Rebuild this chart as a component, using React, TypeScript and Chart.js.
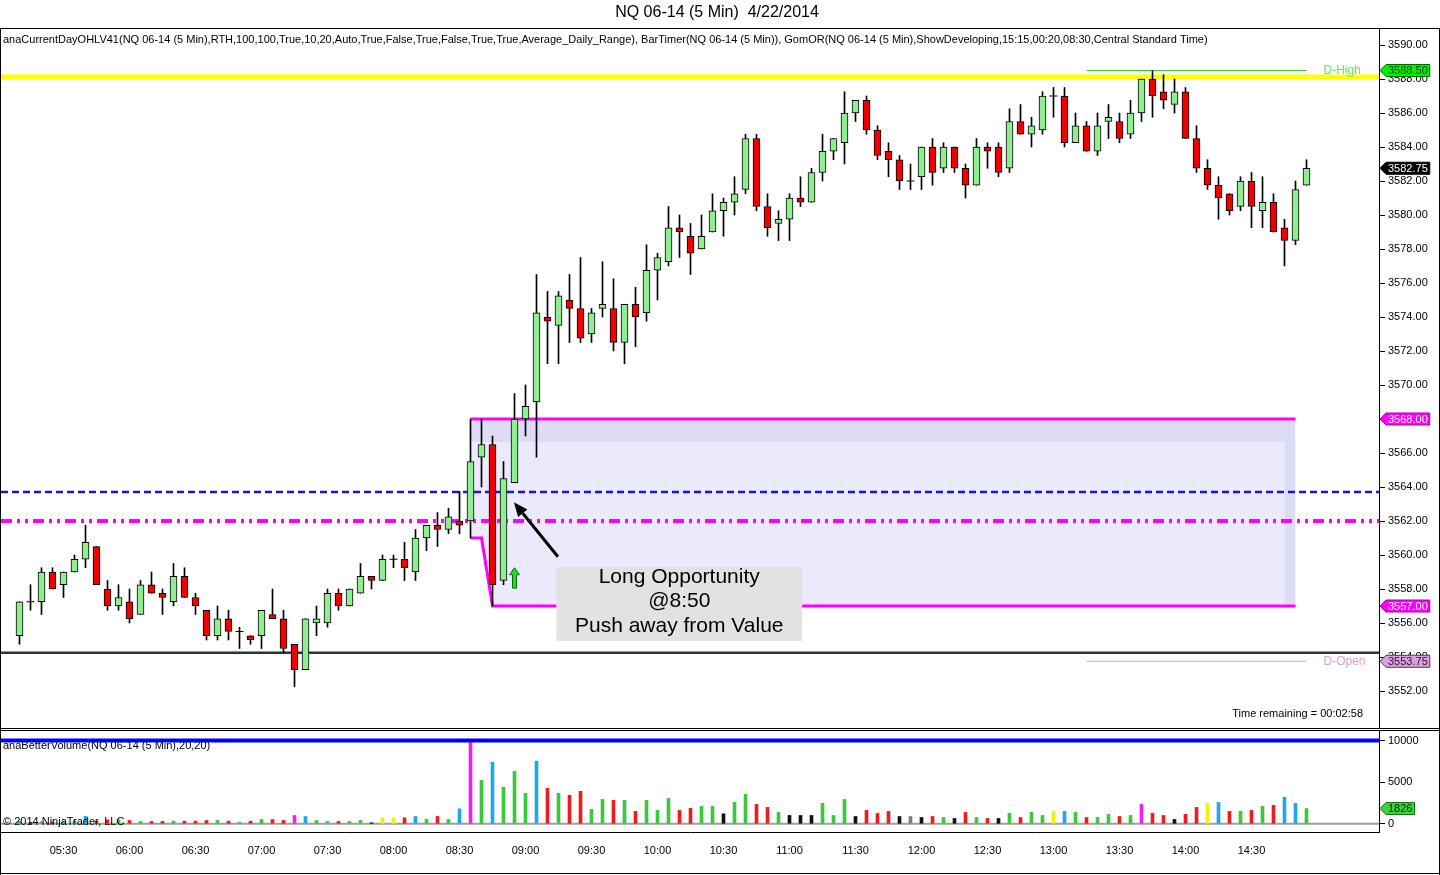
import React, { useEffect, useRef } from 'react';
import { Chart, registerables } from 'chart.js';

Chart.register(...registerables);

const FONT = '"Liberation Sans", Arial, Helvetica, sans-serif';

// ---------------- data ----------------
const sessionStart = '05:10';
const barMinutes = 5;

const opens = [
  3555.25, 3557.25, 3557.25, 3559, 3558.25, 3559, 3559.75, 3560.5, 3558, 3557,
  3557.25, 3556.5, 3558.25, 3557.75, 3557.25, 3558.75, 3557.5, 3556.75, 3555.25, 3556.25,
  3555.5, 3555.25, 3555.25, 3556.5, 3556.25, 3554.75, 3553.25, 3556, 3556, 3557.75,
  3557, 3557.75, 3558.75, 3558.5, 3559.75, 3559.75, 3559, 3561, 3561.75, 3561.5,
  3562, 3562, 3565.75, 3566.5, 3558.5, 3564.25, 3568, 3569, 3574, 3573.5,
  3575, 3574.5, 3573, 3574.5, 3574.5, 3572.5, 3574.75, 3574.25, 3576.75, 3577.25,
  3579.25, 3578.75, 3578, 3579, 3580.25, 3580.75, 3581.5, 3584.5, 3580.5, 3579.5,
  3579.75, 3581, 3580.75, 3582.5, 3583.75, 3584.25, 3586, 3586.75, 3585, 3583.75,
  3583.25, 3582, 3582.25, 3584, 3582.75, 3584, 3582.75, 3581.75, 3584, 3584,
  3582.75, 3585.5, 3584.75, 3585, 3587, 3587, 3584.25, 3585.25, 3583.75, 3585.5,
  3585.5, 3584.75, 3586, 3588, 3587.25, 3586.5, 3587.25, 3584.5, 3582.75, 3581.75,
  3581.25, 3580.5, 3582, 3580.25, 3580.75, 3579.25, 3578.5, 3581.75,
];
const highs = [
  3557.25, 3558.25, 3559.25, 3559.25, 3559, 3560, 3561.75, 3560.5, 3558.5, 3558.25,
  3558, 3558.5, 3559, 3558, 3559.5, 3559.25, 3557.75, 3556.75, 3557, 3556.75,
  3555.75, 3555.25, 3556.75, 3558, 3556.75, 3554.75, 3556.25, 3557, 3558, 3558,
  3558, 3559.5, 3558.75, 3560, 3560, 3560.75, 3561.5, 3561.75, 3562.5, 3562.75,
  3563.75, 3568, 3568, 3567, 3565.5, 3569.5, 3570, 3576.5, 3575.5, 3575.5,
  3576.5, 3577.5, 3574.5, 3577.25, 3576.25, 3574.75, 3575.75, 3578.25, 3577.75, 3580.5,
  3580, 3579.5, 3580, 3581.25, 3581, 3582.25, 3584.75, 3584.75, 3581.25, 3580.25,
  3581.25, 3582.25, 3582.75, 3584.75, 3584.5, 3587.25, 3586.75, 3587, 3585.25, 3584.25,
  3583.5, 3583, 3584, 3584.5, 3584.25, 3584, 3583, 3584.5, 3584.25, 3584.25,
  3586.25, 3586.5, 3585.75, 3587.25, 3587.5, 3587.5, 3586, 3585.5, 3586, 3586.5,
  3586, 3586.75, 3588, 3588.5, 3588.25, 3588, 3587.5, 3585.25, 3583.25, 3582.25,
  3581.25, 3582.25, 3582.5, 3582.25, 3581.25, 3579.75, 3582, 3583.25,
];
const lows = [
  3554.75, 3556.75, 3556.5, 3558, 3557.5, 3559, 3559.25, 3558.25, 3556.75, 3556.75,
  3556, 3556.5, 3557.75, 3556.5, 3557, 3557.5, 3556.5, 3555, 3555, 3555,
  3554.5, 3554.75, 3554.5, 3556.25, 3554.25, 3552.25, 3553.25, 3555.25, 3555.75, 3556.75,
  3557, 3557.75, 3558, 3558.5, 3559.25, 3558.5, 3558.5, 3560.25, 3560.5, 3561.25,
  3561.25, 3561, 3564, 3557, 3558.25, 3564.25, 3567, 3565.75, 3571.25, 3571.25,
  3572.5, 3572.5, 3572.5, 3574, 3572, 3571.25, 3572.25, 3573.75, 3575, 3577,
  3577.5, 3576.5, 3578, 3579, 3578.75, 3580, 3581.25, 3580.25, 3578.75, 3578.5,
  3578.5, 3580.5, 3580.75, 3582, 3583.25, 3583, 3585.5, 3584.75, 3583.25, 3582.25,
  3581.5, 3581.5, 3581.5, 3581.75, 3582.5, 3582.5, 3581, 3581.75, 3582.75, 3582.25,
  3582.5, 3584.75, 3584, 3584.75, 3585.75, 3584, 3584.25, 3583.75, 3583.5, 3584.5,
  3584.25, 3584.5, 3585.5, 3585.75, 3586.25, 3586, 3584.5, 3582.5, 3581.5, 3579.75,
  3580, 3580.25, 3579.25, 3579.25, 3579, 3577, 3578.25, 3581.75,
];
const closes = [
  3557.25, 3557.25, 3559, 3558, 3559, 3559.75, 3560.75, 3558.25, 3557, 3557.5,
  3556.25, 3558.25, 3557.75, 3557.5, 3558.75, 3557.5, 3557, 3555.25, 3556.25, 3555.5,
  3555.5, 3555, 3556.75, 3556.25, 3554.5, 3553.25, 3556.25, 3556.25, 3557.75, 3557,
  3558, 3558.75, 3558.5, 3559.75, 3559.75, 3559.25, 3561, 3561.75, 3561.5, 3562.25,
  3561.75, 3565.5, 3566.5, 3558.25, 3564.5, 3568, 3568.75, 3574.25, 3573.75, 3575.25,
  3574.5, 3572.75, 3574.25, 3574.75, 3572.5, 3574.75, 3574, 3576.75, 3577.5, 3579.25,
  3579, 3577.75, 3578.75, 3580.25, 3580.75, 3581.25, 3584.5, 3580.5, 3579.25, 3579.75,
  3581, 3580.75, 3582.5, 3583.75, 3584.5, 3586, 3586.75, 3585, 3583.5, 3583.25,
  3582, 3582, 3584, 3582.5, 3584, 3582.75, 3581.75, 3584, 3583.75, 3582.5,
  3585.5, 3584.75, 3585.25, 3587, 3587, 3584.25, 3585.25, 3583.75, 3585.25, 3585.75,
  3584.5, 3586, 3588, 3587, 3586.75, 3587.25, 3584.5, 3582.75, 3581.75, 3581,
  3580.25, 3582, 3580.5, 3580.75, 3579, 3578.5, 3581.5, 3582.75,
];
const volumes = [
  300, 150, 250, 200, 250, 350, 900, 300, 480, 480,
  400, 280, 280, 280, 320, 320, 320, 400, 400, 320,
  200, 320, 520, 520, 400, 1000, 880, 400, 280, 280,
  280, 400, 120, 720, 720, 720, 880, 520, 880, 520,
  1800, 10000, 5230, 7400, 4380, 6310, 3660, 7520, 4260, 3660,
  3420, 3900, 1730, 2930, 2810, 2810, 1490, 2810, 1610, 3050,
  1610, 1850, 2090, 2090, 1200, 2570, 3540, 2330, 1970, 1370,
  1000, 1000, 1000, 2450, 1000, 2930, 880, 1610, 1250, 1490,
  880, 880, 760, 880, 760, 640, 1370, 760, 640, 640,
  1250, 760, 1370, 1000, 1490, 1490, 1370, 760, 760, 1130,
  880, 1000, 2330, 1250, 1000, 520, 1130, 1970, 2450, 2570,
  1490, 1490, 1610, 2090, 2210, 3180, 2450, 1826,
];
// BetterVolume bar classes: g up, r down, c climax, m churn, y low, k/s neutral
const volumeKinds = [
  'g', 'k', 'g', 'r', 'g', 'g', 'c', 'r', 'r', 'g',
  'r', 'g', 'r', 'r', 'g', 'r', 'r', 'r', 'g', 'r',
  'g', 'r', 'g', 'r', 'r', 'm', 'c', 'g', 'g', 'r',
  'g', 'g', 'k', 'y', 'y', 'r', 'c', 'g', 'r', 'g',
  'c', 'm', 'g', 'c', 'g', 'g', 'g', 'c', 'r', 'g',
  'r', 'r', 'g', 'g', 'r', 'g', 'r', 'g', 'g', 'g',
  'r', 'r', 'g', 'g', 'k', 'g', 'g', 'r', 'r', 'g',
  'k', 'k', 'k', 'g', 'g', 'g', 'k', 'r', 'r', 'r',
  'k', 's', 'k', 'r', 'g', 'k', 'r', 'g', 'r', 'k',
  'g', 'r', 'g', 'g', 'y', 'c', 'g', 'r', 'g', 'g',
  'r', 'g', 'm', 'r', 'r', 'k', 'r', 'r', 'y', 'c',
  'r', 'g', 'r', 'g', 'r', 'c', 'c', 'g',
];

const timeTickLabels = [
  '05:30', '06:00', '06:30', '07:00', '07:30', '08:00', '08:30', '09:00', '09:30', '10:00',
  '10:30', '11:00', '11:30', '12:00', '12:30', '13:00', '13:30', '14:00', '14:30',
];
const priceTickValues = [
  3552, 3554, 3556, 3558, 3560, 3562, 3564, 3566, 3568, 3570,
  3572, 3574, 3576, 3578, 3580, 3582, 3584, 3586, 3588, 3590,
];
const volumeTickValues = [0, 5000, 10000];

const yellowLevel = 3588.125;
const blueDashLevel = 3563.7;
const dashDotLevel = 3562;
const blackLevel = 3554.25;
const dayHigh = 3588.5;
const dayOpen = 3553.75;
const orUpperBand = 3566.65;
const orStart = '08:30';
const orMinutes = 20;
const dayLineStartIndex = 97;
const volumeLineLevel = 10000;
const signalTime = '08:55';
const signalTop = 3559.25;
const signalBottom = 3558.05;

const chartTitle = 'NQ 06-14 (5 Min)  4/22/2014';
const indicatorText =
  'anaCurrentDayOHLV41(NQ 06-14 (5 Min),RTH,100,100,True,10,20,Auto,True,False,True,False,True,True,Average_Daily_Range), BarTimer(NQ 06-14 (5 Min)), GomOR(NQ 06-14 (5 Min),ShowDeveloping,15:15,00:20,08:30,Central Standard Time)';
const volumeIndicatorText = 'anaBetterVolume(NQ 06-14 (5 Min),20,20)';
const copyrightText = '\u00A9 2014 NinjaTrader, LLC';
const timerText = 'Time remaining = 00:02:58';
const noteLines = ['Long Opportunity', '@8:50', 'Push away from Value'];

// ---------------- layout / style ----------------
const W = 1440;
const MAIN_H = 730;
const VOL_H = 145;
const AXIS_W = 61;
const X_MIN = -18.5 / 11;
const X_MAX = X_MIN + 1378 / 11;
const Y_MAX = 3590 + 16 / 17;
const Y_MIN = Y_MAX - 699 / 17;
const V_MAX = 11140;
const V_MIN = -984;

const UP = '#90ee90';
const DOWN = '#f00000';
const MAGENTA = '#ff00ff';
const BAND = '#dcdcf6';
const LIGHT = '#eaeafc';
const VOL_COLORS: Record<string, string> = {
  g: '#3cc83c', r: '#ee1c1c', c: '#1ea8ec', m: '#ee22ee', y: '#f2f200', k: '#101010', s: '#708090',
};

const toMin = (t: string) => {
  const [h, m] = t.split(':').map(Number);
  return h * 60 + m;
};
const barIndexOf = (t: string) => (toMin(t) - toMin(sessionStart)) / barMinutes;

const idx = closes.map((_, i) => i);
const lastIndex = closes.length - 1;
const orFirst = barIndexOf(orStart) + 1;
const orLast = barIndexOf(orStart) + orMinutes / barMinutes;
const boxLast = closes.length - 2;
const boxIdx = idx.filter((i) => i >= orFirst && i <= boxLast);
const orHighDev = boxIdx.map((i) => Math.max(...highs.slice(orFirst, Math.min(i, orLast) + 1)));
const orLowDev = boxIdx.map((i) => Math.min(...lows.slice(orFirst, Math.min(i, orLast) + 1)));
const orHighFinal = orHighDev[orHighDev.length - 1];
const orLowFinal = orLowDev[orLowDev.length - 1];
const timeTickIdx = timeTickLabels.map(barIndexOf);

const hLine = (y: number, from: number, to: number, extra: any) => ({
  type: 'line',
  data: [{ x: from, y }, { x: to, y }],
  pointRadius: 0,
  fill: false,
  tension: 0,
  ...extra,
});

function drawFlag(ctx: any, x0: number, y: number, text: string, bg: string, fg: string, edge: string) {
  ctx.font = `11px ${FONT}`;
  const tw = ctx.measureText(text).width;
  const h = 12;
  const tip = 6;
  const w = tw + 4;
  ctx.beginPath();
  ctx.moveTo(x0, y);
  ctx.lineTo(x0 + tip, y - h / 2);
  ctx.lineTo(x0 + tip + w, y - h / 2);
  ctx.lineTo(x0 + tip + w, y + h / 2);
  ctx.lineTo(x0 + tip, y + h / 2);
  ctx.closePath();
  ctx.fillStyle = bg;
  ctx.fill();
  ctx.strokeStyle = edge;
  ctx.lineWidth = 1;
  ctx.stroke();
  ctx.fillStyle = fg;
  ctx.textAlign = 'left';
  ctx.textBaseline = 'middle';
  ctx.fillText(text, x0 + tip + 2, y + 0.5);
}

function drawArrow(ctx: any, x1: number, y1: number, x2: number, y2: number) {
  const ang = Math.atan2(y2 - y1, x2 - x1);
  const head = 14;
  const half = 6;
  const bx = x2 - head * Math.cos(ang);
  const by = y2 - head * Math.sin(ang);
  ctx.strokeStyle = '#000';
  ctx.lineWidth = 3;
  ctx.beginPath();
  ctx.moveTo(x1, y1);
  ctx.lineTo(bx, by);
  ctx.stroke();
  ctx.fillStyle = '#000';
  ctx.beginPath();
  ctx.moveTo(x2, y2);
  ctx.lineTo(bx + half * Math.sin(ang), by - half * Math.cos(ang));
  ctx.lineTo(bx - half * Math.sin(ang), by + half * Math.cos(ang));
  ctx.closePath();
  ctx.fill();
}

function drawUpArrow(ctx: any, cx: number, tipY: number, bottomY: number) {
  ctx.beginPath();
  ctx.moveTo(cx, tipY);
  ctx.lineTo(cx + 5, tipY + 7);
  ctx.lineTo(cx + 2, tipY + 7);
  ctx.lineTo(cx + 2, bottomY);
  ctx.lineTo(cx - 2, bottomY);
  ctx.lineTo(cx - 2, tipY + 7);
  ctx.lineTo(cx - 5, tipY + 7);
  ctx.closePath();
  ctx.fillStyle = '#1ee01e';
  ctx.fill();
  ctx.strokeStyle = '#0a6a0a';
  ctx.lineWidth = 1;
  ctx.stroke();
}

const mainOverlay = {
  id: 'mainOverlay',
  afterDatasetsDraw(chart: any) {
    const { ctx, scales } = chart;
    const x = scales.x;
    const y = scales.y;
    ctx.save();
    const si = barIndexOf(signalTime);
    drawUpArrow(ctx, x.getPixelForValue(si), y.getPixelForValue(signalTop), y.getPixelForValue(signalBottom));
    const bl = x.getPixelForValue(48.8);
    const br = x.getPixelForValue(71.15);
    const bt = y.getPixelForValue(3559.3);
    const bb = y.getPixelForValue(3554.95);
    ctx.fillStyle = '#e2e2e2';
    ctx.fillRect(bl, bt, br - bl, bb - bt);
    ctx.fillStyle = '#000';
    ctx.font = `21px ${FONT}`;
    ctx.textAlign = 'center';
    ctx.textBaseline = 'middle';
    noteLines.forEach((t, k) => ctx.fillText(t, (bl + br) / 2, bt + 10 + k * 24.5));
    drawArrow(
      ctx,
      x.getPixelForValue(48.95), y.getPixelForValue(3559.9),
      x.getPixelForValue(44.95), y.getPixelForValue(3563.1),
    );
    ctx.restore();
  },
  afterDraw(chart: any) {
    const { ctx, scales, chartArea } = chart;
    const x = scales.x;
    const y = scales.y;
    ctx.save();
    ctx.strokeStyle = '#000';
    ctx.lineWidth = 1;
    ctx.beginPath();
    ctx.moveTo(0, 28.5); ctx.lineTo(W, 28.5);
    ctx.moveTo(0.5, 28); ctx.lineTo(0.5, MAIN_H);
    ctx.moveTo(W - 0.5, 28); ctx.lineTo(W - 0.5, MAIN_H);
    ctx.moveTo(0, 728.5); ctx.lineTo(W, 728.5);
    ctx.stroke();

    ctx.fillStyle = '#000';
    ctx.textBaseline = 'middle';
    ctx.font = `16px ${FONT}`;
    ctx.textAlign = 'center';
    ctx.fillText(chartTitle, 717, 13);
    ctx.font = `11px ${FONT}`;
    ctx.textAlign = 'left';
    ctx.fillText(indicatorText, 3, 40);
    ctx.textAlign = 'right';
    ctx.fillText(timerText, chartArea.right - 16, chartArea.bottom - 14);

    const lx = x.getPixelForValue(lastIndex) + 17;
    ctx.textAlign = 'left';
    ctx.font = `12px ${FONT}`;
    ctx.fillStyle = '#5ee85e';
    ctx.fillText('D-High', lx, y.getPixelForValue(dayHigh));
    ctx.fillStyle = '#d4a0d4';
    ctx.fillText('D-Open', lx, y.getPixelForValue(dayOpen) + 0.5);

    const fx = chartArea.right + 1;
    drawFlag(ctx, fx, y.getPixelForValue(dayHigh), dayHigh.toFixed(2), '#00f000', '#004400', '#006600');
    drawFlag(ctx, fx, y.getPixelForValue(closes[lastIndex]), closes[lastIndex].toFixed(2), '#000', '#fff', '#000');
    drawFlag(ctx, fx, y.getPixelForValue(orHighFinal), orHighFinal.toFixed(2), MAGENTA, '#fff', '#aa00aa');
    drawFlag(ctx, fx, y.getPixelForValue(orLowFinal), orLowFinal.toFixed(2), MAGENTA, '#fff', '#aa00aa');
    drawFlag(ctx, fx, y.getPixelForValue(dayOpen), dayOpen.toFixed(2), '#dda0dd', '#222', '#553355');
    ctx.restore();
  },
};

const volOverlay = {
  id: 'volOverlay',
  afterDraw(chart: any) {
    const { ctx, scales, chartArea } = chart;
    const y = scales.y;
    ctx.save();
    ctx.strokeStyle = '#000';
    ctx.lineWidth = 1;
    ctx.beginPath();
    ctx.moveTo(0, 0.5); ctx.lineTo(W, 0.5);
    ctx.moveTo(0.5, 0); ctx.lineTo(0.5, VOL_H);
    ctx.moveTo(W - 0.5, 0); ctx.lineTo(W - 0.5, VOL_H);
    ctx.moveTo(0, VOL_H - 1.5); ctx.lineTo(W, VOL_H - 1.5);
    ctx.stroke();
    ctx.fillStyle = '#000';
    ctx.font = `11px ${FONT}`;
    ctx.textAlign = 'left';
    ctx.textBaseline = 'middle';
    ctx.fillText(volumeIndicatorText, 3, 16);
    ctx.fillText(copyrightText, 3, 92);
    const lv = volumes[lastIndex];
    drawFlag(ctx, chartArea.right + 1, y.getPixelForValue(lv), String(lv), '#3cd43c', '#002200', '#0a6a0a');
    ctx.restore();
  },
};

function mainConfig(): any {
  return {
    type: 'bar',
    data: {
      datasets: [
        {
          type: 'line',
          data: boxIdx.map((i, k) => ({ x: i, y: orHighDev[k] })),
          borderColor: MAGENTA, borderWidth: 3, pointRadius: 0, tension: 0,
          fill: 1, backgroundColor: BAND, order: 100,
        },
        {
          type: 'line',
          data: boxIdx.map((i) => ({ x: i, y: orUpperBand })),
          borderWidth: 0, pointRadius: 0, tension: 0,
          fill: 2, backgroundColor: LIGHT, order: 99,
        },
        {
          type: 'line',
          data: boxIdx.map((i, k) => ({ x: i, y: orLowDev[k] })),
          borderColor: MAGENTA, borderWidth: 3, pointRadius: 0, tension: 0, fill: false, order: 97,
        },
        hLine(orUpperBand, boxLast - 1, boxLast, {
          borderWidth: 0, fill: { value: orLowFinal }, backgroundColor: BAND, order: 98,
        }),
        hLine(yellowLevel, X_MIN, X_MAX, { borderColor: '#ffff00', borderWidth: 5, order: 90 }),
        hLine(blackLevel, X_MIN, X_MAX, { borderColor: '#333333', borderWidth: 2.5, order: 89 }),
        hLine(blueDashLevel, X_MIN, X_MAX, { borderColor: '#1515e0', borderWidth: 2.5, borderDash: [7, 4], order: 88 }),
        hLine(dashDotLevel, X_MIN, X_MAX, { borderColor: MAGENTA, borderWidth: 4, borderDash: [11, 5, 3, 5, 3, 5], order: 87 }),
        hLine(dayHigh, dayLineStartIndex, lastIndex, { borderColor: '#33cc33', borderWidth: 1, order: 86 }),
        hLine(dayOpen, dayLineStartIndex, lastIndex, { borderColor: '#d8a0d8', borderWidth: 1, order: 85 }),
        {
          type: 'bar',
          data: idx.map((i) => ({ x: i, y: [lows[i], highs[i]] })),
          backgroundColor: '#000', borderWidth: 0, barThickness: 1, grouped: false, order: 20,
        },
        {
          type: 'bar',
          data: idx.map((i) => ({ x: i, y: [opens[i], closes[i]] })),
          backgroundColor: idx.map((i) => (closes[i] >= opens[i] ? UP : DOWN)),
          borderColor: '#000', borderWidth: 1, borderSkipped: false, barThickness: 7, grouped: false, order: 10,
        },
        {
          type: 'line',
          data: idx.filter((i) => opens[i] === closes[i]).map((i) => ({ x: i, y: closes[i] })),
          showLine: false, pointStyle: 'line', pointRadius: 4, pointBorderColor: '#000',
          pointBorderWidth: 1, order: 5,
        },
      ],
    },
    options: {
      responsive: false,
      animation: false,
      events: [],
      layout: { autoPadding: false, padding: { top: 29, left: 1, right: 0, bottom: 2 } },
      plugins: { legend: { display: false }, tooltip: { enabled: false }, title: { display: false } },
      scales: {
        x: {
          type: 'linear', display: false, min: X_MIN, max: X_MAX, offset: false,
          afterFit: (s: any) => { s.paddingLeft = 0; s.paddingRight = 0; },
        },
        y: {
          type: 'linear', position: 'right', min: Y_MIN, max: Y_MAX,
          afterBuildTicks: (s: any) => { s.ticks = priceTickValues.map((v) => ({ value: v })); },
          afterFit: (s: any) => { s.width = AXIS_W; s.paddingTop = 0; s.paddingBottom = 0; },
          ticks: {
            callback: (v: any) => Number(v).toFixed(2),
            color: '#000', font: { family: FONT, size: 11 }, padding: 3, autoSkip: false,
          },
          grid: { drawOnChartArea: false, drawTicks: true, tickLength: 6, color: '#000' },
          border: { display: true, color: '#000', width: 1 },
        },
      },
    },
    plugins: [mainOverlay],
  };
}

function volConfig(): any {
  return {
    type: 'bar',
    data: {
      datasets: [
        hLine(volumeLineLevel, X_MIN, X_MAX, { borderColor: '#0000ff', borderWidth: 4, order: 1 }),
        hLine(0, X_MIN, X_MAX, { borderColor: '#a0a0a0', borderWidth: 2, order: 30 }),
        {
          type: 'bar',
          data: idx.map((i) => ({ x: i, y: volumes[i] })),
          backgroundColor: volumeKinds.map((k) => VOL_COLORS[k]),
          borderWidth: 0, barThickness: 3, grouped: false, order: 10,
        },
      ],
    },
    options: {
      responsive: false,
      animation: false,
      events: [],
      layout: { autoPadding: false, padding: { top: 1, left: 1, right: 0, bottom: 0 } },
      plugins: { legend: { display: false }, tooltip: { enabled: false }, title: { display: false } },
      scales: {
        x: {
          type: 'linear', position: 'bottom', min: X_MIN, max: X_MAX, offset: false,
          afterBuildTicks: (s: any) => { s.ticks = timeTickIdx.map((v) => ({ value: v })); },
          afterFit: (s: any) => { s.height = 43; s.paddingLeft = 0; s.paddingRight = 0; },
          ticks: {
            callback: (_v: any, k: number) => timeTickLabels[k],
            color: '#000', font: { family: FONT, size: 11 }, padding: 4,
            autoSkip: false, maxRotation: 0, minRotation: 0,
          },
          grid: { display: false },
          border: { display: true, color: '#000', width: 1 },
        },
        y: {
          type: 'linear', position: 'right', min: V_MIN, max: V_MAX,
          afterBuildTicks: (s: any) => { s.ticks = volumeTickValues.map((v) => ({ value: v })); },
          afterFit: (s: any) => { s.width = AXIS_W; s.paddingTop = 0; s.paddingBottom = 0; },
          ticks: {
            callback: (v: any) => String(v),
            color: '#000', font: { family: FONT, size: 11 }, padding: 3, autoSkip: false,
          },
          grid: { drawOnChartArea: false, drawTicks: true, tickLength: 6, color: '#000' },
          border: { display: true, color: '#000', width: 1 },
        },
      },
    },
    plugins: [volOverlay],
  };
}

export default function App() {
  const mainRef = useRef<HTMLCanvasElement>(null);
  const volRef = useRef<HTMLCanvasElement>(null);
  useEffect(() => {
    document.body.style.margin = '0';
    const main = new Chart(mainRef.current as HTMLCanvasElement, mainConfig());
    const vol = new Chart(volRef.current as HTMLCanvasElement, volConfig());
    return () => {
      main.destroy();
      vol.destroy();
    };
  }, []);
  return (
    <div style={{ position: 'relative', width: W, height: MAIN_H + VOL_H, background: '#fff', overflow: 'hidden' }}>
      <canvas ref={mainRef} width={W} height={MAIN_H} style={{ position: 'absolute', left: 0, top: 0, display: 'block' }} />
      <canvas ref={volRef} width={W} height={VOL_H} style={{ position: 'absolute', left: 0, top: MAIN_H, display: 'block' }} />
    </div>
  );
}
